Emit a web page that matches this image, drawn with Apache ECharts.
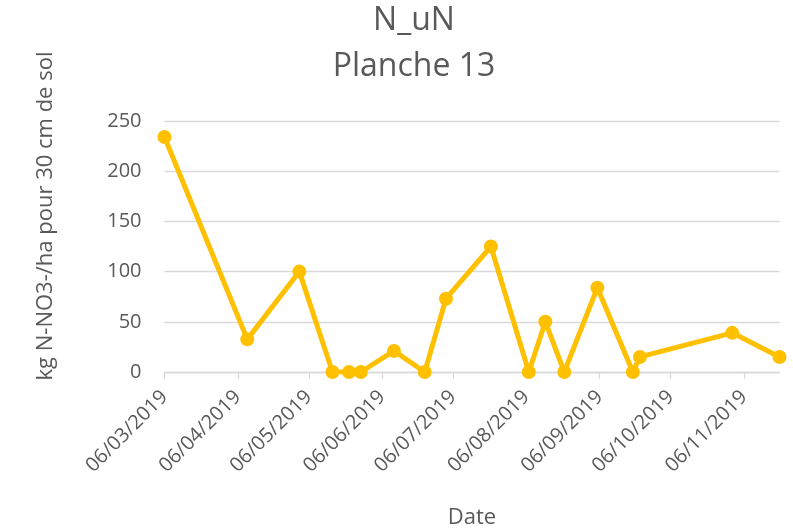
<!DOCTYPE html>
<html>
<head>
<meta charset="utf-8">
<script src="https://cdn.jsdelivr.net/npm/echarts@6/dist/echarts.min.js"></script>
<style>
html,body{margin:0;padding:0;background:#fff;}
#chart{width:793px;height:531px;}
</style>
</head>
<body>
<div id="chart"></div>
<script>
// Data
var dates = ['2019-03-06','2019-04-10','2019-05-02','2019-05-16','2019-05-23','2019-05-28',
             '2019-06-11','2019-06-24','2019-07-03','2019-07-22','2019-08-07','2019-08-14',
             '2019-08-22','2019-09-05','2019-09-20','2019-09-23','2019-11-01','2019-11-21'];
var values = [234, 32.5, 100, 0, 0, 0, 21, 0, 73, 125, 0, 50, 0, 84, 0, 15, 39, 15];
var xTickDates = ['2019-03-06','2019-04-06','2019-05-06','2019-06-06','2019-07-06',
                  '2019-08-06','2019-09-06','2019-10-06','2019-11-06'];
var yTicks = [0, 50, 100, 150, 200, 250];
var titleLines = ['N_uN', 'Planche 13'];
var yName = 'kg N-NO3-/ha pour 30 cm de sol';
var xName = 'Date';

function ts(s){ var p = s.split('-'); return Date.UTC(+p[0], +p[1]-1, +p[2]); }
function pad(n){ return (n<10?'0':'')+n; }

var FONT = '"Open Sans", sans-serif';
var TXT = '#595959';
var GRID = '#d9d9d9';
var GOLD = '#FFC000';

var chart = echarts.init(document.getElementById('chart'));
chart.setOption({
  animation: false,
  backgroundColor: '#fff',
  textStyle: { fontFamily: FONT },
  grid: { left: 164.5, right: 13.5, top: 121, bottom: 159 },
  graphic: [
    { type: 'text', x: 414, y: 21, style: { text: titleLines[0], font: '32px ' + FONT, fill: TXT, textAlign: 'center', textVerticalAlign: 'middle' } },
    { type: 'text', x: 414, y: 67, style: { text: titleLines[1], font: '32px ' + FONT, fill: TXT, textAlign: 'center', textVerticalAlign: 'middle' } },
    { type: 'text', x: 46, y: 216, rotation: Math.PI / 2, style: { text: yName, font: '22px ' + FONT, fill: TXT, textAlign: 'center', textVerticalAlign: 'middle' } }
  ],
  xAxis: {
    type: 'value',
    min: ts(dates[0]),
    max: ts(dates[dates.length - 1]),
    name: xName,
    nameLocation: 'middle',
    nameGap: 135,
    nameTextStyle: { fontFamily: FONT, fontSize: 22, color: TXT },
    axisLine: { show: true, lineStyle: { color: GRID, width: 1.3 } },
    axisTick: { show: true, length: 7, lineStyle: { color: GRID, width: 1.3 }, customValues: xTickDates.map(ts) },
    axisLabel: {
      show: true,
      rotate: 45,
      margin: 22,
      fontFamily: FONT,
      fontSize: 20,
      color: TXT,
      customValues: xTickDates.map(ts),
      formatter: function (v) { var d = new Date(v); return pad(d.getUTCDate()) + '/' + pad(d.getUTCMonth() + 1) + '/' + d.getUTCFullYear(); }
    },
    splitLine: { show: false }
  },
  yAxis: {
    type: 'value',
    min: yTicks[0],
    max: yTicks[yTicks.length - 1],
    interval: 50,
    axisLine: { show: false },
    axisTick: { show: false },
    axisLabel: { margin: 23, fontFamily: FONT, fontSize: 20, color: TXT },
    splitLine: { show: true, lineStyle: { color: GRID, width: 1.3 } }
  },
  series: [{
    type: 'line',
    data: dates.map(function (d, i) { return [ts(d), values[i]]; }),
    symbol: 'circle',
    symbolSize: 14,
    showAllSymbol: true,
    lineStyle: { color: GOLD, width: 5 },
    itemStyle: { color: GOLD },
    z: 3
  }]
});
</script>
</body>
</html>
